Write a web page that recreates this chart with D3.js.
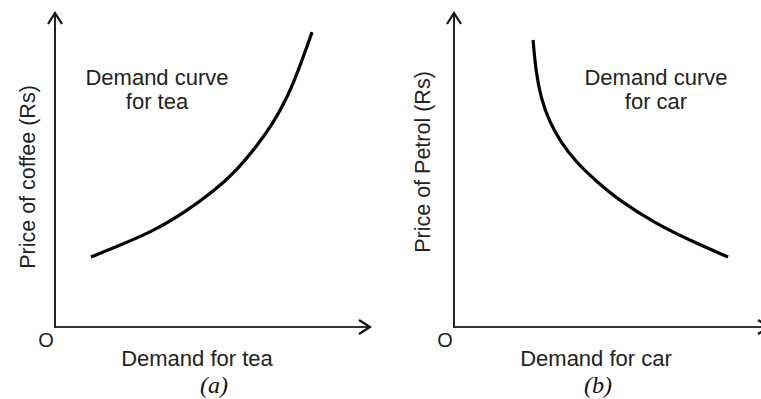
<!DOCTYPE html>
<html>
<head>
<meta charset="utf-8">
<script src="https://cdn.jsdelivr.net/npm/d3@7"></script>
<style>
  body { margin: 0; background: #fff; }
  svg { display: block; }
</style>
</head>
<body>
<div id="chart"></div>
<script>
// curve (a): demand for tea vs price of coffee (axis units 0-100)
const teaDemand = [11.4, 20.0, 30.8, 41.3, 50.5, 57.8, 64.1, 69.5, 74.0, 77.8, 81.6];
const coffeePrice = [22.3, 25.8, 30.3, 36.6, 43.3, 50.0, 57.6, 65.3, 73.6, 83.1, 93.9];

// curve (b): demand for car vs price of petrol
const carDemand = [25.1, 26.0, 27.6, 30.2, 33.7, 38.7, 45.1, 52.7, 63.8, 75.9, 87.0];
const petrolPrice = [91.4, 81.2, 72.9, 65.6, 59.2, 52.5, 46.5, 40.1, 33.1, 27.1, 22.3];

const panelCaptions = ['(a)', '(b)'];
const xLabels = ['Demand for tea', 'Demand for car'];
const yLabels = ['Price of coffee (Rs)', 'Price of Petrol (Rs)'];
const curveLabels = [['Demand curve', 'for tea'], ['Demand curve', 'for car']];

class DemandPanel {
  constructor(_config, _data) {
    this.config = {
      svg: _config.svg,
      originX: _config.originX,
      originY: 327,
      width: 315,
      height: 314,
      arrowLen: 11,
      arrowHalf: 7,
      labelX: _config.labelX,
      yLabelX: _config.yLabelX,
      yLabelY: _config.yLabelY,
      captionX: _config.captionX,
      xLabelX: _config.xLabelX,
      oX: _config.oX,
      curveLabel: _config.curveLabel,
      xLabel: _config.xLabel,
      yLabel: _config.yLabel,
      caption: _config.caption,
    };
    this.data = _data;
    this.initVis();
  }

  initVis() {
    const vis = this;
    const c = vis.config;

    vis.g = c.svg.append('g')
      .attr('transform', `translate(${c.originX},${c.originY})`);

    vis.xScale = d3.scaleLinear().domain([0, 100]).range([0, c.width]);
    vis.yScale = d3.scaleLinear().domain([0, 100]).range([0, -c.height]);

    // axes with open arrow heads
    vis.g.append('line')
      .attr('x1', 0).attr('y1', 0)
      .attr('x2', vis.xScale(100) - 1).attr('y2', 0)
      .attr('stroke', '#333').attr('stroke-width', 2);
    vis.g.append('line')
      .attr('x1', 0).attr('y1', 1)
      .attr('x2', 0).attr('y2', vis.yScale(100) + 1)
      .attr('stroke', '#222').attr('stroke-width', 2);

    const xt = vis.xScale(100);
    const yt = vis.yScale(100);
    vis.g.append('path')
      .attr('d', `M${xt - c.arrowLen},${-c.arrowHalf}L${xt},0L${xt - c.arrowLen},${c.arrowHalf}`)
      .attr('fill', 'none').attr('stroke', '#111').attr('stroke-width', 2.2);
    vis.g.append('path')
      .attr('d', `M${-c.arrowHalf},${yt + c.arrowLen}L0,${yt}L${c.arrowHalf},${yt + c.arrowLen}`)
      .attr('fill', 'none').attr('stroke', '#111').attr('stroke-width', 2.2);

    vis.renderVis();
  }

  renderVis() {
    const vis = this;
    const c = vis.config;
    const font = '"Liberation Sans", Arial, sans-serif';

    const line = d3.line()
      .x((d) => vis.xScale(d.x))
      .y((d) => vis.yScale(d.y))
      .curve(d3.curveBasis);

    vis.g.append('path')
      .datum(vis.data)
      .attr('d', line)
      .attr('fill', 'none')
      .attr('stroke', '#000')
      .attr('stroke-width', 3.2);

    // origin
    c.svg.append('text')
      .attr('x', c.oX).attr('y', 347)
      .attr('text-anchor', 'middle')
      .attr('font-family', font).attr('font-size', 20)
      .attr('fill', '#222')
      .text('O');

    // curve label
    c.svg.append('text')
      .attr('x', c.labelX).attr('y', 85)
      .attr('text-anchor', 'middle')
      .attr('font-family', font).attr('font-size', 22)
      .attr('fill', '#222')
      .selectAll('tspan')
      .data(c.curveLabel)
      .join('tspan')
      .attr('x', c.labelX)
      .attr('dy', (d, i) => (i === 0 ? 0 : 24))
      .text((d) => d);

    // x axis title
    c.svg.append('text')
      .attr('x', c.xLabelX).attr('y', 366)
      .attr('text-anchor', 'middle')
      .attr('font-family', font).attr('font-size', 22)
      .attr('fill', '#222')
      .text(c.xLabel);

    // y axis title
    c.svg.append('text')
      .attr('transform', `translate(${c.yLabelX},${c.yLabelY}) rotate(-90)`)
      .attr('text-anchor', 'middle')
      .attr('font-family', font).attr('font-size', 21.5)
      .attr('fill', '#222')
      .text(c.yLabel);

    // caption
    c.svg.append('text')
      .attr('x', c.captionX).attr('y', 393)
      .attr('text-anchor', 'middle')
      .attr('font-family', '"Liberation Serif", "Times New Roman", serif')
      .attr('font-style', 'italic')
      .attr('font-size', 24)
      .attr('fill', '#111')
      .text(c.caption);
  }
}

const svg = d3.select('#chart').append('svg')
  .attr('width', 761)
  .attr('height', 399);

const toPoints = (xs, ys) => xs.map((x, i) => ({ x, y: ys[i] }));

const panelA = new DemandPanel({
  svg,
  originX: 55,
  oX: 46,
  labelX: 157,
  xLabelX: 197,
  yLabelX: 35,
  yLabelY: 177,
  captionX: 214,
  curveLabel: curveLabels[0],
  xLabel: xLabels[0],
  yLabel: yLabels[0],
  caption: panelCaptions[0],
}, toPoints(teaDemand, coffeePrice));

const panelB = new DemandPanel({
  svg,
  originX: 454,
  oX: 445,
  labelX: 656,
  xLabelX: 596,
  yLabelX: 430,
  yLabelY: 162,
  captionX: 598,
  curveLabel: curveLabels[1],
  xLabel: xLabels[1],
  yLabel: yLabels[1],
  caption: panelCaptions[1],
}, toPoints(carDemand, petrolPrice));
</script>
</body>
</html>
